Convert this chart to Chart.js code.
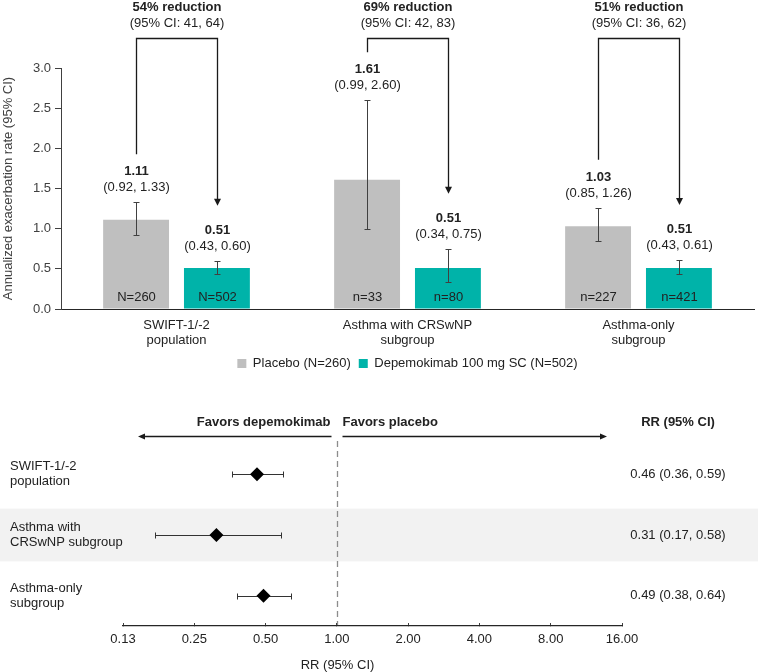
<!DOCTYPE html>
<html>
<head>
<meta charset="utf-8">
<script src="https://cdn.jsdelivr.net/npm/chart.js@4.4.1/dist/chart.umd.min.js"></script>
<style>
  body { margin: 0; background: #fff; }
  #wrap { position: relative; width: 760px; height: 672px; overflow: hidden; }
  #chartRate { position: absolute; left: 0; top: 0; }
  #chartRR { position: absolute; left: 0; top: 385px; }
</style>
</head>
<body>
<div id="wrap">
  <canvas id="chartRate" width="760" height="400"></canvas>
  <canvas id="chartRR" width="760" height="287"></canvas>
</div>
<script>
// ---- top panel data ----
const groups = [["SWIFT-1/-2", "population"], ["Asthma with CRSwNP", "subgroup"], ["Asthma-only", "subgroup"]];
const placebo = [1.11, 1.61, 1.03];
const placeboLow = [0.92, 0.99, 0.85];
const placeboHigh = [1.33, 2.60, 1.26];
const placeboN = ["N=260", "n=33", "n=227"];
const depemokimab = [0.51, 0.51, 0.51];
const depLow = [0.43, 0.34, 0.43];
const depHigh = [0.60, 0.75, 0.61];
const depN = ["N=502", "n=80", "n=421"];
const reductions = ["54% reduction", "69% reduction", "51% reduction"];
const reductionCI = ["(95% CI: 41, 64)", "(95% CI: 42, 83)", "(95% CI: 36, 62)"];

// ---- bottom panel data ----
const rowLabels = [["SWIFT-1/-2", "population"], ["Asthma with", "CRSwNP subgroup"], ["Asthma-only", "subgroup"]];
const rr = [0.46, 0.31, 0.49];
const rrLow = [0.36, 0.17, 0.38];
const rrHigh = [0.59, 0.58, 0.64];
const rrTicks = [0.125, 0.25, 0.5, 1, 2, 4, 8, 16];
const rrTickLabels = ["0.13", "0.25", "0.50", "1.00", "2.00", "4.00", "8.00", "16.00"];

const FONT = '"Liberation Sans", Arial, sans-serif';
const TXT = '#222222';
const AXIS = '#404040';
const GRAY = '#bfbfbf';
const TEAL = '#00b3a9';

function arrowHead(ctx, x, y, dir) {
  // dir: 'down' | 'left' | 'right'
  ctx.beginPath();
  if (dir === 'down') { ctx.moveTo(x, y); ctx.lineTo(x - 3.5, y - 7); ctx.lineTo(x + 3.5, y - 7); }
  if (dir === 'left') { ctx.moveTo(x, y); ctx.lineTo(x + 7, y - 3); ctx.lineTo(x + 7, y + 3); }
  if (dir === 'right') { ctx.moveTo(x, y); ctx.lineTo(x - 7, y - 3); ctx.lineTo(x - 7, y + 3); }
  ctx.closePath();
  ctx.fill();
}

const rateAnnotations = {
  id: 'rateAnnotations',
  afterDatasetsDraw(chart) {
    const { ctx, chartArea } = chart;
    const yScale = chart.scales.y;
    const sets = [
      { meta: chart.getDatasetMeta(0), val: placebo, lo: placeboLow, hi: placeboHigh, n: placeboN },
      { meta: chart.getDatasetMeta(1), val: depemokimab, lo: depLow, hi: depHigh, n: depN }
    ];
    ctx.save();
    ctx.textAlign = 'center';
    ctx.textBaseline = 'middle';
    sets.forEach(s => {
      s.meta.data.forEach((bar, i) => {
        const x = Math.round(bar.x) + 0.5;
        const yLo = Math.round(yScale.getPixelForValue(s.lo[i])) + 0.5;
        const yHi = Math.round(yScale.getPixelForValue(s.hi[i])) + 0.5;
        ctx.strokeStyle = AXIS;
        ctx.lineWidth = 1;
        ctx.beginPath();
        ctx.moveTo(x, yLo); ctx.lineTo(x, yHi);
        ctx.moveTo(x - 3, yLo); ctx.lineTo(x + 3, yLo);
        ctx.moveTo(x - 3, yHi); ctx.lineTo(x + 3, yHi);
        ctx.stroke();

        ctx.fillStyle = TXT;
        ctx.font = 'bold 13px ' + FONT;
        ctx.fillText(s.val[i].toFixed(2), x, yHi - 31);
        ctx.font = '13px ' + FONT;
        ctx.fillText('(' + s.lo[i].toFixed(2) + ', ' + s.hi[i].toFixed(2) + ')', x, yHi - 15);
        ctx.fillText(s.n[i], x, chartArea.bottom - 12);
      });
    });

    // reduction brackets
    const top = Math.round(chartArea.top - 30) + 0.5;
    sets[0].meta.data.forEach((bar, i) => {
      const xa = Math.round(bar.x) + 0.5;
      const xb = Math.round(sets[1].meta.data[i].x) + 0.5;
      const yA = yScale.getPixelForValue(placeboHigh[i]) - 48;
      const yB = yScale.getPixelForValue(depHigh[i]) - 55;
      ctx.strokeStyle = '#1a1a1a';
      ctx.fillStyle = '#1a1a1a';
      ctx.lineWidth = 1.3;
      ctx.beginPath();
      ctx.moveTo(xa, yA);
      ctx.lineTo(xa, top);
      ctx.lineTo(xb, top);
      ctx.lineTo(xb, yB - 6);
      ctx.stroke();
      arrowHead(ctx, xb, yB, 'down');

      const xc = (xa + xb) / 2;
      ctx.fillStyle = TXT;
      ctx.font = 'bold 13px ' + FONT;
      ctx.fillText(reductions[i], xc, top - 31);
      ctx.font = '13px ' + FONT;
      ctx.fillText(reductionCI[i], xc, top - 15);
    });
    ctx.restore();
  }
};

new Chart(document.getElementById('chartRate'), {
  type: 'bar',
  data: {
    labels: groups,
    datasets: [
      { label: 'Placebo (N=260)', data: placebo, backgroundColor: GRAY },
      { label: 'Depemokimab 100 mg SC (N=502)', data: depemokimab, backgroundColor: TEAL }
    ]
  },
  options: {
    responsive: false,
    animation: false,
    categoryPercentage: 0.70,
    barPercentage: 0.815,
    layout: { padding: { top: 68, right: 6, left: 0, bottom: 20 } },
    plugins: {
      legend: {
        position: 'bottom',
        fullSize: false,
        labels: { boxWidth: 9, boxHeight: 9, padding: 8, color: TXT, font: { family: FONT, size: 13 } }
      },
      tooltip: { enabled: false }
    },
    scales: {
      x: {
        grid: { display: false },
        border: { color: '#262626' },
        ticks: { color: TXT, font: { family: FONT, size: 13, lineHeight: 1.15 }, padding: 1, maxRotation: 0, autoSkip: false },
        afterFit: s => { s.height = 40; }
      },
      y: {
        min: 0,
        max: 3,
        ticks: { stepSize: 0.5, callback: v => v.toFixed(1), color: AXIS, font: { family: FONT, size: 13 }, padding: 4 },
        grid: { drawOnChartArea: false, tickLength: 6, color: AXIS },
        border: { color: AXIS },
        title: { display: true, text: 'Annualized exacerbation rate (95% CI)', color: AXIS, font: { family: FONT, size: 13 }, padding: { top: 1, bottom: 0 } },
        afterFit: s => { s.width = 61; }
      }
    }
  },
  plugins: [rateAnnotations]
});

const forestDecor = {
  id: 'forestDecor',
  beforeDraw(chart) {
    const { ctx, chartArea } = chart;
    const { x, y } = chart.scales;
    ctx.save();
    // shaded middle row
    const b0 = y.getPixelForValue(2 - 0.435);
    const b1 = y.getPixelForValue(2 + 0.435);
    ctx.fillStyle = '#f2f2f2';
    ctx.fillRect(0, b0, chart.width - 2, b1 - b0);

    // line of no effect
    const x1 = Math.round(x.getPixelForValue(1)) + 0.5;
    ctx.strokeStyle = '#8c8c8c';
    ctx.lineWidth = 1.3;
    ctx.setLineDash([6, 4]);
    ctx.beginPath();
    ctx.moveTo(x1, chartArea.top - 3);
    ctx.lineTo(x1, chartArea.bottom);
    ctx.stroke();
    ctx.setLineDash([]);

    // direction arrows
    const ay = Math.round(chartArea.top - 8) + 0.5;
    const xl = chartArea.left + 15;
    const xr = chartArea.right - 15;
    ctx.strokeStyle = '#1a1a1a';
    ctx.fillStyle = '#1a1a1a';
    ctx.lineWidth = 1.5;
    ctx.beginPath();
    ctx.moveTo(x1 - 6, ay); ctx.lineTo(xl + 5, ay);
    ctx.moveTo(x1 + 5, ay); ctx.lineTo(xr - 5, ay);
    ctx.stroke();
    arrowHead(ctx, xl, ay, 'left');
    arrowHead(ctx, xr, ay, 'right');

    ctx.fillStyle = TXT;
    ctx.textBaseline = 'middle';
    ctx.font = 'bold 13px ' + FONT;
    ctx.textAlign = 'right';
    ctx.fillText('Favors depemokimab', x1 - 7, chartArea.top - 22);
    ctx.textAlign = 'left';
    ctx.fillText('Favors placebo', x1 + 5, chartArea.top - 22);

    const colX = chartArea.right + 56;
    ctx.textAlign = 'center';
    ctx.fillText('RR (95% CI)', colX, chartArea.top - 22);
    ctx.font = '13px ' + FONT;
    rr.forEach((v, i) => {
      ctx.fillText(v.toFixed(2) + ' (' + rrLow[i].toFixed(2) + ', ' + rrHigh[i].toFixed(2) + ')', colX, y.getPixelForValue(i + 1));
    });
    ctx.fillText('RR (95% CI)', x1, chartArea.bottom + 39);
    ctx.restore();
  },
  beforeDatasetsDraw(chart) {
    const { ctx } = chart;
    const { x, y } = chart.scales;
    ctx.save();
    ctx.strokeStyle = '#333333';
    ctx.lineWidth = 1;
    rr.forEach((v, i) => {
      const yc = Math.round(y.getPixelForValue(i + 1)) + 0.5;
      const xa = Math.round(x.getPixelForValue(rrLow[i])) + 0.5;
      const xb = Math.round(x.getPixelForValue(rrHigh[i])) + 0.5;
      ctx.beginPath();
      ctx.moveTo(xa, yc); ctx.lineTo(xb, yc);
      ctx.moveTo(xa, yc - 3); ctx.lineTo(xa, yc + 3);
      ctx.moveTo(xb, yc - 3); ctx.lineTo(xb, yc + 3);
      ctx.stroke();
    });
    ctx.restore();
  }
};

new Chart(document.getElementById('chartRR'), {
  type: 'scatter',
  data: {
    datasets: [{
      data: rr.map((v, i) => ({ x: v, y: i + 1 })),
      pointStyle: 'rectRot',
      pointRadius: 7,
      backgroundColor: '#000000',
      borderColor: '#000000',
      borderWidth: 0
    }]
  },
  options: {
    responsive: false,
    animation: false,
    layout: { padding: { left: 10, right: 138, top: 59, bottom: 22 } },
    plugins: { legend: { display: false }, tooltip: { enabled: false } },
    scales: {
      x: {
        type: 'logarithmic',
        min: 0.125,
        max: 16,
        afterBuildTicks: s => { s.ticks = rrTicks.map(v => ({ value: v })); },
        afterFit: s => { s.height = 24; },
        ticks: { callback: (v, i) => rrTickLabels[i], color: TXT, font: { family: FONT, size: 13 }, padding: 9, autoSkip: false, maxRotation: 0 },
        grid: { drawOnChartArea: false, tickLength: -3, color: AXIS },
        border: { color: '#262626', width: 1.3 }
      },
      y: {
        type: 'linear',
        min: 0.5,
        max: 3.5,
        reverse: true,
        afterBuildTicks: s => { s.ticks = rowLabels.map((l, i) => ({ value: i + 1 })); },
        afterFit: s => { s.width = 113; },
        ticks: { callback: (v, i) => rowLabels[i], crossAlign: 'far', color: TXT, font: { family: FONT, size: 13, lineHeight: 1.15 }, padding: 0 },
        grid: { display: false },
        border: { display: false }
      }
    }
  },
  plugins: [forestDecor]
});
</script>
</body>
</html>
